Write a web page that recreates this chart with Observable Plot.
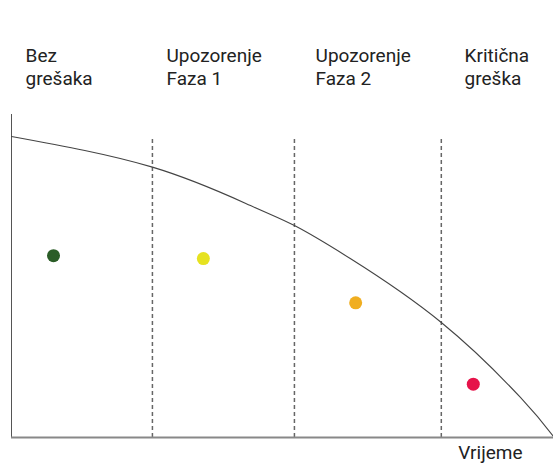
<!DOCTYPE html>
<html>
<head>
<meta charset="utf-8">
<script src="https://cdn.jsdelivr.net/npm/d3@7"></script>
<script src="https://cdn.jsdelivr.net/npm/@observablehq/plot@0.6"></script>
<style>
  html, body { margin: 0; padding: 0; background: #fff; }
  #chart svg { display: block; }
</style>
</head>
<body>
<div id="chart"></div>
<script>
// Phase labels and where they sit on the time axis
const phaseLabels = ["Bez\ngrešaka", "Upozorenje\nFaza 1", "Upozorenje\nFaza 2", "Kritična\ngreška"];
const phaseLabelTime = [2.6, 28.6, 56.1, 83.6];
// Phase boundaries (time units)
const boundaries = [26.0, 52.2, 79.3];
// Status dots per phase
const dotTime = [7.75, 35.4, 63.5, 85.2];
const dotValue = [56.3, 55.4, 41.7, 16.5];
const dotColors = ["#2b5d27", "#e6e220", "#f0ae20", "#e6134a"];
// Degradation curve
const curveTime = [0, 26.0, 44.1, 52.2, 62.5, 79.3, 93.9, 100];
const curveValue = [93.2, 83.7, 71.8, 65.6, 55.4, 35.6, 12.4, 0.3];
const xLabel = "Vrijeme";

const curve = curveTime.map((t, i) => ({t, v: curveValue[i]}));
const dots = dotTime.map((t, i) => ({t, v: dotValue[i], c: dotColors[i]}));
const labels = phaseLabels.map((l, i) => ({l, t: phaseLabelTime[i]}));
const bounds = boundaries.map(t => ({t}));

const font = "Roboto, 'DejaVu Sans', sans-serif";

const plot = Plot.plot({
  width: 553,
  height: 471,
  marginLeft: 11,
  marginRight: 0,
  marginTop: 114,
  marginBottom: 34,
  style: {fontFamily: font, background: "#fff", overflow: "visible"},
  x: {domain: [0, 100], axis: null},
  y: {domain: [0, 100], axis: null},
  marks: [
    Plot.ruleX(bounds, {x: "t", y1: 0, y2: curveValue[0], stroke: "#666", strokeWidth: 1.5, strokeDasharray: "4,3"}),
    Plot.ruleX([0], {y1: 0, y2: 100, stroke: "#555", strokeWidth: 1}),
    Plot.ruleY([0], {x1: 0, x2: 100, stroke: "#888", strokeWidth: 2}),
    Plot.line(curve, {x: "t", y: "v", curve: "natural", stroke: "#444", strokeWidth: 1.1}),
    Plot.dot(dots, {x: "t", y: "v", fill: "c", r: 6.5, stroke: "none"}),
    Plot.text(labels, {x: "t", frameAnchor: "top", text: "l", textAnchor: "start", lineAnchor: "top",
      dy: -69, lineHeight: 1.23, fontSize: 19, fill: "#222"}),
    Plot.text([xLabel], {frameAnchor: "bottom-right", textAnchor: "end", dx: -31, dy: 21, fontSize: 19, fill: "#222"})
  ]
});
document.getElementById("chart").appendChild(plot);
</script>
</body>
</html>
